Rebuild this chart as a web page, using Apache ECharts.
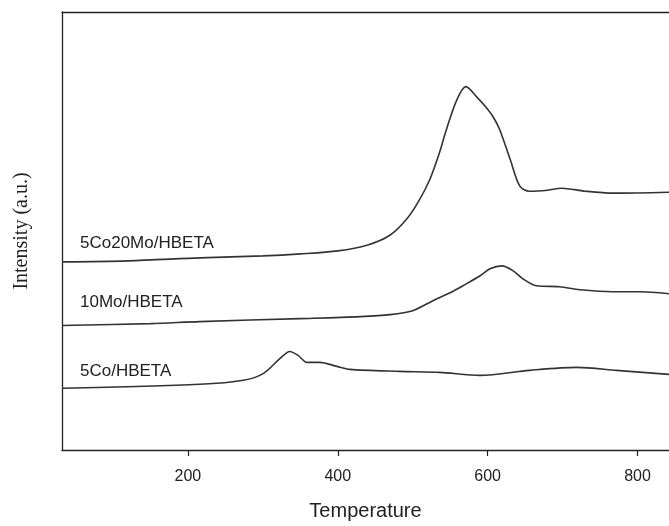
<!DOCTYPE html>
<html>
<head>
<meta charset="utf-8">
<script src="https://cdn.jsdelivr.net/npm/echarts@6/dist/echarts.min.js"></script>
<style>
  html, body { margin: 0; padding: 0; background: #fff; }
  #chart { width: 669px; height: 526px; }
</style>
</head>
<body>
<div id="chart"></div>
<script>
// TPR profiles: temperature (°C) vs. detector intensity (arbitrary units)
const seriesNames = ['5Co20Mo/HBETA', '10Mo/HBETA', '5Co/HBETA'];
const xTicks = [200, 400, 600, 800];

const tempCo20Mo = [32, 120, 216, 300, 350, 400, 440, 470, 492, 508, 523, 535, 545, 559, 571, 585, 597, 607, 616, 630, 643, 656, 680, 699, 730, 767, 842];
const intCo20Mo  = [189, 190, 193, 195, 197, 200, 206, 216, 232, 250, 272, 297, 322, 352, 365, 355, 345, 335, 322, 292, 265, 260, 261, 263, 260, 258, 259];

const tempMo = [32, 150, 216, 350, 430, 470, 500, 527, 550, 567, 590, 603, 619, 634, 647, 665, 696, 723, 767, 803, 842];
const intMo  = [125, 127, 129, 132, 134, 136, 140, 150, 158, 165, 175, 182, 185, 180, 172, 165, 164, 161, 159, 159, 157];

const tempCo = [32, 216, 274, 301, 323, 336, 347, 359, 376, 399, 416, 483, 536, 590, 656, 719, 772, 842];
const intCo  = [62, 66, 70, 77, 92, 99, 95, 88, 88, 84, 81, 79, 78, 75, 80, 83, 80, 76];

function pairs(xs, ys) { return xs.map((x, i) => [x, ys[i]]); }

const lineColor = '#333333';
const axisColor = '#222222';
const sans = '"Liberation Sans", Arial, sans-serif';

const chart = echarts.init(document.getElementById('chart'), null, { renderer: 'canvas' });

function lineSeries(name, xs, ys) {
  return {
    name: name,
    type: 'line',
    data: pairs(xs, ys),
    smooth: 0.3,
    showSymbol: false,
    symbol: 'none',
    lineStyle: { color: lineColor, width: 1.6 },
    clip: true,
    silent: true
  };
}

chart.setOption({
  animation: false,
  backgroundColor: '#ffffff',
  grid: { left: 62, top: 12, right: 0, bottom: 73 },
  xAxis: [
    {
      type: 'value',
      min: 32,
      max: 842,
      name: 'Temperature',
      nameLocation: 'middle',
      nameGap: 51,
      nameTextStyle: { fontFamily: sans, fontSize: 20, color: '#222' },
      axisLine: { show: true, onZero: false, lineStyle: { color: axisColor, width: 1.3 } },
      axisTick: { show: true, inside: false, length: 6, customValues: xTicks, lineStyle: { color: axisColor, width: 1.2 } },
      axisLabel: { show: true, margin: 19, customValues: xTicks, fontFamily: sans, fontSize: 16, color: '#222' },
      splitLine: { show: false }
    },
    {
      type: 'value',
      position: 'top',
      min: 32,
      max: 842,
      axisLine: { show: true, onZero: false, lineStyle: { color: axisColor, width: 1.3 } },
      axisTick: { show: false },
      axisLabel: { show: false },
      splitLine: { show: false }
    }
  ],
  yAxis: {
    type: 'value',
    min: 0,
    max: 440,
    name: 'Intensity (a.u.)',
    nameLocation: 'middle',
    nameGap: 30,
    nameTextStyle: { fontFamily: '"Liberation Serif", "Times New Roman", serif', fontSize: 20, color: '#222' },
    axisLine: { show: true, onZero: false, lineStyle: { color: axisColor, width: 1.3 } },
    axisTick: { show: false },
    axisLabel: { show: false },
    splitLine: { show: false }
  },
  graphic: [
    { type: 'text', left: 80, top: 235, style: { text: seriesNames[0], font: '17px ' + sans, fill: '#222' } },
    { type: 'text', left: 80, top: 294, style: { text: seriesNames[1], font: '17px ' + sans, fill: '#222' } },
    { type: 'text', left: 80, top: 363, style: { text: seriesNames[2], font: '17px ' + sans, fill: '#222' } }
  ],
  series: [
    lineSeries(seriesNames[0], tempCo20Mo, intCo20Mo),
    lineSeries(seriesNames[1], tempMo, intMo),
    lineSeries(seriesNames[2], tempCo, intCo)
  ]
});
</script>
</body>
</html>
